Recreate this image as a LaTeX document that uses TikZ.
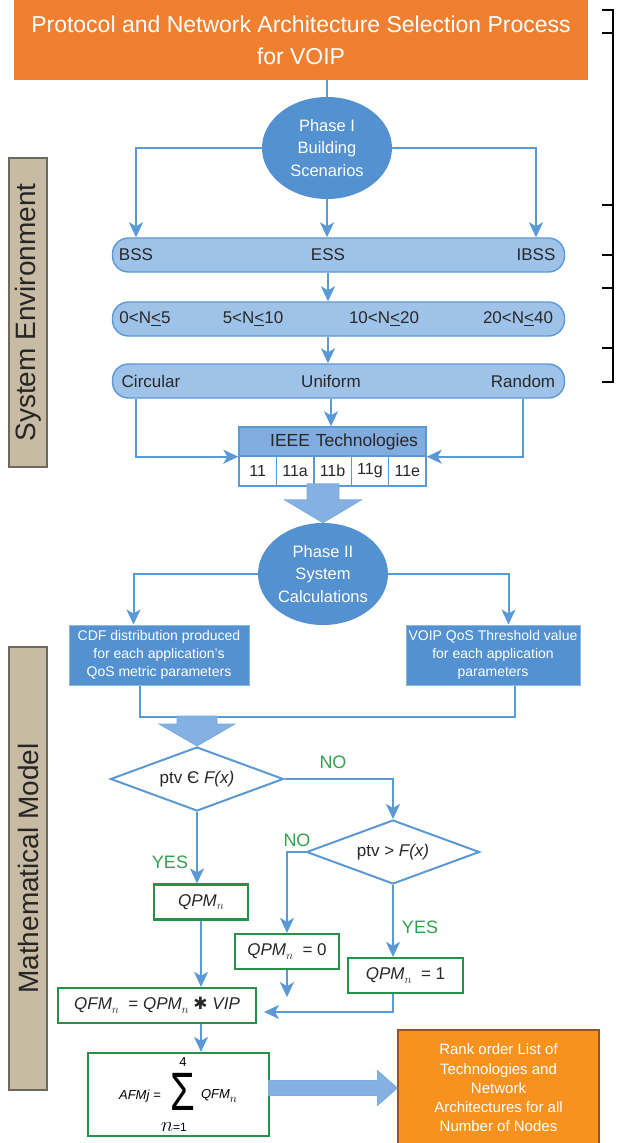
\documentclass[tikz,border=0pt]{standalone}
\usepackage{fontspec}
\setmainfont{Liberation Sans}
\newfontfamily\starfont{DejaVu Sans}
\usepackage{graphicx}
\usepackage{tikz}
\usetikzlibrary{calc}
\usetikzlibrary{positioning}
\usetikzlibrary{shapes.geometric}
\usetikzlibrary{arrows.meta}

\definecolor{titleorange}{RGB}{240,128,48}
\definecolor{rankorange}{RGB}{247,146,30}
\definecolor{rankedge}{RGB}{150,85,40}
\definecolor{phaseblue}{RGB}{84,145,208}
\definecolor{barfill}{RGB}{158,194,232}
\definecolor{lineblue}{RGB}{90,153,214}
\definecolor{headblue}{RGB}{128,172,224}
\definecolor{fatblue}{RGB}{132,176,226}
\definecolor{boxgreen}{RGB}{38,146,72}
\definecolor{textgreen}{RGB}{50,160,80}
\definecolor{sidetan}{RGB}{200,187,163}
\definecolor{sideborder}{RGB}{112,104,94}
\definecolor{inkgray}{RGB}{40,40,40}

\newcommand{\nsub}{\raisebox{-3.5pt}{\fontsize{13}{13}\selectfont$n$}}

\begin{document}
\begin{tikzpicture}[x=1pt,y=-1pt,
  conn/.style={draw=lineblue,line width=2pt},
  arr/.style={conn,-{Stealth[length=15pt,width=14pt,inset=4pt]}},
  titlebox/.style={fill=titleorange,text=white,minimum width=574pt,minimum height=80pt,inner sep=0pt,align=center,font=\fontsize{23}{32}\selectfont},
  phase/.style={ellipse,fill=phaseblue,text=white,minimum width=130pt,minimum height=102pt,inner sep=0pt,align=center,font=\fontsize{16.5}{22.5}\selectfont},
  bar/.style={draw=lineblue,line width=1.4pt,fill=barfill,rounded corners=16pt,minimum width=452pt,minimum height=34pt},
  bartext/.style={inner sep=0pt,text=inkgray,font=\fontsize{17}{20}\selectfont},
  ieeehead/.style={draw=lineblue,line width=1.4pt,fill=headblue,minimum height=29pt,inner xsep=8pt,inner ysep=0pt,text width=171pt,align=right,text=inkgray,font=\fontsize{17.5}{20}\selectfont},
  cell/.style={draw=lineblue,line width=1.4pt,fill=white,minimum width=37.4pt,minimum height=30pt,inner sep=0pt,text=inkgray,font=\fontsize{16}{18}\selectfont},
  calcbox/.style={draw=lineblue!70!white,line width=1pt,fill=phaseblue,text=white,minimum height=60pt,inner sep=0pt,align=center,font=\fontsize{14}{18}\selectfont},
  decide/.style={diamond,aspect=2.7,draw=lineblue,line width=2pt,fill=white,minimum width=173pt,minimum height=64pt,inner sep=0pt,text=inkgray,font=\fontsize{17}{20}\selectfont},
  greenbox/.style={draw=boxgreen,line width=2.2pt,fill=white,minimum height=35pt,inner sep=0pt,text=inkgray,font=\fontsize{17}{20}\selectfont},
  answer/.style={text=textgreen,inner sep=0pt,font=\fontsize{18}{20}\selectfont},
  fat/.style={fill=fatblue,draw=lineblue!80!white,line width=0.8pt,line join=miter},
  sidebox/.style={rotate=90,draw=sideborder,line width=1.3pt,fill=sidetan,minimum height=38pt,inner sep=0pt,text=black!85,font=\fontsize{28}{30}\selectfont},
  rankbox/.style={fill=rankorange,draw=rankedge,line width=1.2pt,text=white,minimum width=201pt,minimum height=116pt,inner sep=0pt,align=center,font=\fontsize{15}{19.3}\selectfont}]
\useasboundingbox (0,0) rectangle (616,1143);

% side labels
\node[sidebox,minimum width=309pt] (sysenv) at (28,312.5) {System Environment};
\node[sidebox,minimum width=443pt] (mathmod) at (28,868.5) {Mathematical Model};

% bracket on the right
\draw[line width=1.6pt] (602,10) -- (613,10) -- (613,382) -- (602,382);
\foreach \yy in {33,205,255,288,348}
  \draw[line width=1.6pt] (602,\yy) -- (613,\yy);

% phase I
\node[titlebox] (title) at (301,40) {Protocol and Network Architecture Selection Process\\for VOIP};
\node[phase] (phaseone) at (327,148) {Phase I\\Building\\Scenarios};
\draw[conn] (phaseone.north) -- (phaseone.north |- title.south);

\node[bar] (bss) at (338.5,255) {};
\node[bartext] (bsslbl) at (136,255) {BSS};
\node[bartext] (esslbl) at (328,255) {ESS};
\node[bartext] (ibsslbl) at (536,255) {IBSS};

\node[bar] (nbar) at (338.5,319) {};
\node[bartext] (nlblA) at (145,319) {0<N\underline{<}5};
\node[bartext] (nlblB) at (253,319) {5<N\underline{<}10};
\node[bartext] (nlblC) at (384,319) {10<N\underline{<}20};
\node[bartext] (nlblD) at (518,319) {20<N\underline{<}40};

\node[bar] (posbar) at (338.5,381) {};
\node[bartext] (circlbl) at (151,381) {Circular};
\node[bartext] (unilbl) at (331,381) {Uniform};
\node[bartext] (randlbl) at (523,381) {Random};

\draw[arr] (phaseone.west) -| (bsslbl |- bss.north);
\draw[arr] (phaseone.east) -| (ibsslbl |- bss.north);
\draw[arr] (phaseone.south) -- (phaseone.south |- bss.north);
\draw[arr] (esslbl |- bss.south) -- (esslbl |- nbar.north);
\draw[arr] (esslbl |- nbar.south) -- (esslbl |- posbar.north);

% IEEE technologies
\node[ieeehead] (ieee) at (332.5,441.5) {IEEE Technologies};
\foreach \t [count=\i from 0] in {11,11a,11b,11g,11e}
  \node[cell] (cell\i) at ({257.7+37.4*\i},471) {\t};

\draw[arr] (bsslbl |- posbar.south) |- (ieee.south west);
\draw[arr] (randlbl |- posbar.south) |- (ieee.south east);
\draw[arr] (unilbl |- posbar.south) -- (unilbl |- ieee.north);

% phase II
\node[phase] (phasetwo) at (323,574) {Phase II\\System\\Calculations};
\filldraw[fat] (phasetwo.north) -- ++(-38.5,-23) -- ++(22.5,0) -- ++(0,-16) -- ++(32,0) -- ++(0,16) -- ++(22.5,0) -- cycle;

\node[calcbox,minimum width=180pt] (cdf) at (159,655) {CDF distribution produced\\for each application's\\QoS metric parameters};
\node[calcbox,minimum width=174pt] (voip) at (493,655) {VOIP QoS Threshold value\\for each application\\parameters};
\draw[arr] (phasetwo.west) -| ($(cdf.north west)+(65,0)$);
\draw[arr] (phasetwo.east) -| ($(voip.north west)+(103,0)$);

\coordinate (joinl) at (140,717);
\coordinate (joinr) at (515,717);
\draw[conn] (joinl |- cdf.south) -- (joinl) -- (joinr) -- (joinr |- voip.south);

% mathematical model
\node[decide] (ptvin) at (197,779) {ptv Є \textit{F(x)}};
\filldraw[fat] (ptvin.north) -- ++(-38,-22) -- ++(18,0) -- ++(0,-8) -- ++(40,0) -- ++(0,8) -- ++(18,0) -- cycle;
\node[decide] (ptvgt) at (393,852) {ptv > \textit{F(x)}};

\node[greenbox,minimum width=94pt] (qpmn) at (201,902) {\textit{QPM}\nsub};
\node[greenbox,minimum width=104pt] (qpmzero) at (287,951.5) {\textit{QPM}\nsub\ \ = 0};
\node[greenbox,minimum width=115pt] (qpmone) at (405.5,975.5) {\textit{QPM}\nsub\ \ = 1};
\node[greenbox,minimum width=198pt] (qfm) at (157,1005.5) {\textit{QFM}\nsub\ \ = \textit{QPM}\nsub\ {\starfont ✱} \textit{VIP}};
\node[greenbox,minimum width=181pt,minimum height=83pt] (afm) at (178.5,1094.5) {};

\node[inner sep=0pt,font=\fontsize{13}{15}\selectfont] (afmlhs) at (140,1096) {\textit{AFMj} =};
\node[inner sep=0pt,font=\fontsize{54}{54}\selectfont] (afmsum) at (183,1092) {\scalebox{0.74}[1]{Σ}};
\node[inner sep=0pt,font=\fontsize{13}{15}\selectfont] (afmtop) at (183,1062) {4};
\node[inner sep=0pt] (afmbot) at (174,1127) {{\fontsize{20}{20}\selectfont$n$}{\fontsize{12}{12}\selectfont=1}};
\node[inner sep=0pt,font=\fontsize{13}{15}\selectfont] (afmrhs) at (219,1096) {\textit{QFM}\nsub};

\node[rankbox] (rank) at (498.5,1088) {Rank order List of\\Technologies and\\Network\\Architectures for all\\Number of Nodes};

\draw[arr] (ptvin.east) -| (ptvgt.north);
\draw[arr] (ptvgt.west) -| (qpmzero.north);
\draw[arr] (ptvin.south) -- (ptvin.south |- qpmn.north);
\draw[arr] (ptvgt.south) -- (ptvgt.south |- qpmone.north);
\draw[arr] (qpmn.south) -- (qpmn.south |- qfm.north);
\coordinate (zeroend) at ($(qpmzero.south)+(0,27)$);
\draw[arr] (qpmzero.south) -- (zeroend);
\coordinate (mergeend) at (264,1012);
\draw[arr] (ptvgt.south |- qpmone.south) |- (mergeend);
\draw[arr] (qpmn.south |- qfm.south) -- (qpmn.south |- afm.north);
\filldraw[fat] (rank.west) -- ++(-20,-17.5) -- ++(0,10) -- ++(-109,0) -- ++(0,15) -- ++(109,0) -- ++(0,10) -- cycle;

\node[answer] (noone) at (333,762) {NO};
\node[answer] (notwo) at (297,840) {NO};
\node[answer] (yesone) at (170,862) {YES};
\node[answer] (yestwo) at (420,927) {YES};
\end{tikzpicture}
\end{document}
